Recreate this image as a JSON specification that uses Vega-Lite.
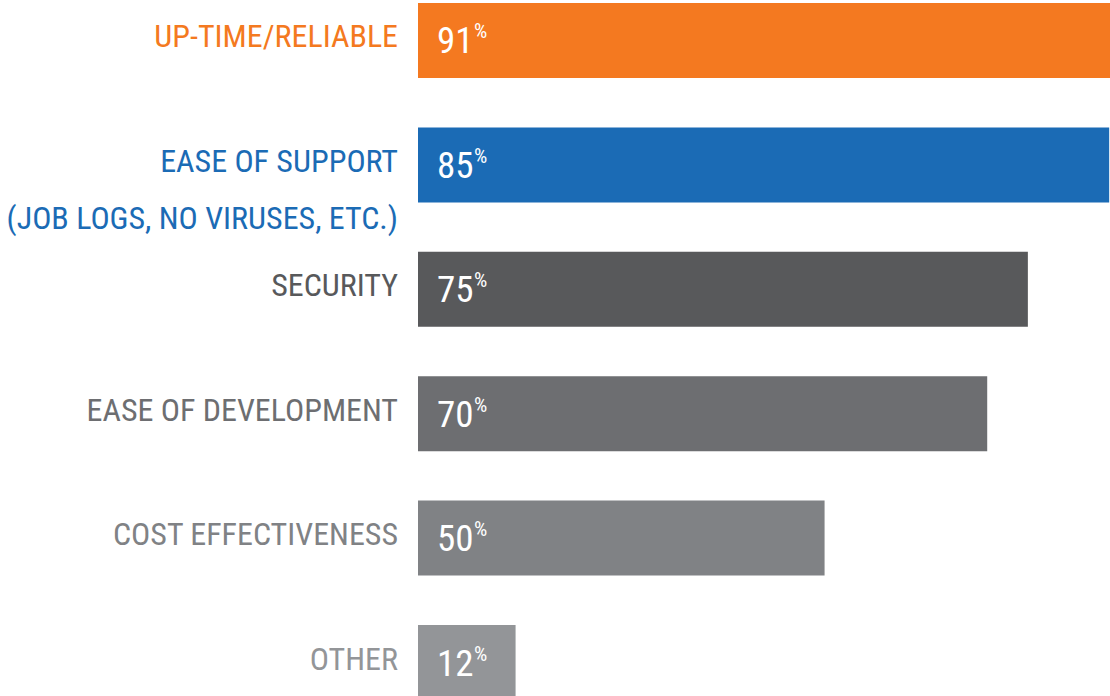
{
  "$schema": "https://vega.github.io/schema/vega-lite/v6.json",
  "autosize": "none",
  "width": 692,
  "height": 703,
  "padding": {"left": 418, "top": 0, "right": 0, "bottom": 0},
  "background": "#ffffff",
  "config": {"view": {"stroke": null}},
  "data": {
    "values": [
      {"category": "UP-TIME/RELIABLE", "value": 91},
      {"category": "EASE OF SUPPORT |(JOB LOGS, NO VIRUSES, ETC.)", "value": 85},
      {"category": "SECURITY", "value": 75},
      {"category": "EASE OF DEVELOPMENT", "value": 70},
      {"category": "COST EFFECTIVENESS", "value": 50},
      {"category": "OTHER", "value": 12}
    ]
  },
  "encoding": {
    "y": {
      "field": "category",
      "type": "nominal",
      "sort": null,
      "axis": null,
      "scale": {"paddingInner": 0.397, "paddingOuter": 0.024}
    },
    "color": {
      "field": "category",
      "type": "nominal",
      "legend": null,
      "scale": {
        "domain": ["UP-TIME/RELIABLE", "EASE OF SUPPORT |(JOB LOGS, NO VIRUSES, ETC.)", "SECURITY", "EASE OF DEVELOPMENT", "COST EFFECTIVENESS", "OTHER"],
        "range": ["#f47920", "#1b6bb5", "#58595b", "#6d6e71", "#808285", "#939598"]
      }
    }
  },
  "layer": [
    {
      "mark": {"type": "bar", "clip": true},
      "encoding": {
        "x": {"field": "value", "type": "quantitative", "axis": null, "scale": {"domain": [0, 85.1], "clamp": true, "nice": false, "zero": true}}
      }
    },
    {
      "mark": {"type": "text", "align": "right", "baseline": "alphabetic", "dx": -20, "dy": 7, "font": "'Roboto Condensed', 'DejaVu Sans Condensed', Roboto", "fontSize": 32, "lineBreak": "|", "lineHeight": 57},
      "encoding": {
        "x": {"datum": 0, "type": "quantitative"},
        "text": {"field": "category", "type": "nominal"}
      }
    },
    {
      "mark": {"type": "text", "align": "left", "baseline": "alphabetic", "dx": 19, "dy": 13, "font": "'Roboto Condensed', 'DejaVu Sans Condensed', Roboto", "fontSize": 37},
      "encoding": {
        "x": {"datum": 0, "type": "quantitative"},
        "text": {"field": "value", "type": "quantitative"},
        "color": {"value": "#ffffff"}
      }
    },
    {
      "mark": {"type": "text", "align": "left", "baseline": "alphabetic", "dx": 56, "dy": -2, "font": "'Roboto Condensed', 'DejaVu Sans Condensed', Roboto", "fontSize": 21, "text": "%"},
      "encoding": {
        "x": {"datum": 0, "type": "quantitative"},
        "color": {"value": "#ffffff"}
      }
    }
  ]
}
